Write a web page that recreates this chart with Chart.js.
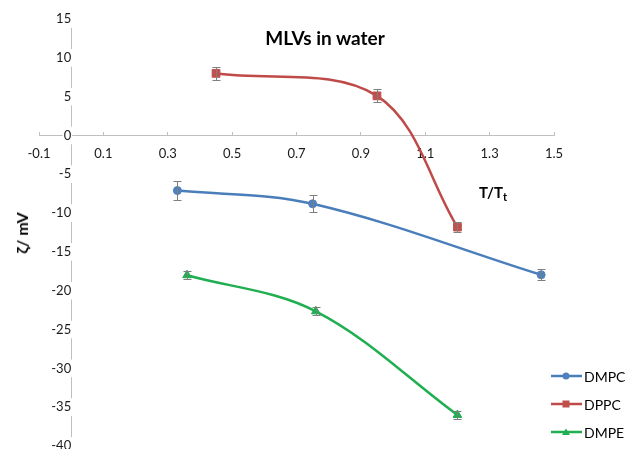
<!DOCTYPE html>
<html><head><meta charset="utf-8">
<script src="https://cdn.jsdelivr.net/npm/chart.js@4"></script>
<style>
html,body{margin:0;padding:0;background:#fff;}
#wrap{position:relative;width:626px;height:449px;font-family:Lato,'Open Sans',sans-serif;overflow:hidden;}
canvas{position:absolute;left:0;top:0;}
.t{position:absolute;white-space:nowrap;color:#000;line-height:1;}
#title{left:325px;top:37px;transform:translate(-50%,-50%);font-weight:bold;font-size:19px;}
#xt{left:479px;top:192px;transform:translateY(-50%);font-weight:bold;font-size:15px;}
#xt sub{font-size:11px;vertical-align:-3px;line-height:0;}
#yt{left:22px;top:233px;transform:translate(-50%,-50%) rotate(-90deg);font-weight:bold;font-size:16px;}
#legend{position:absolute;left:551px;top:362px;}
.row{display:flex;align-items:center;height:28px;font-size:14px;color:#000;}
.row svg{margin-right:2px;}
</style></head>
<body><div id="wrap"><canvas id="c" width="626" height="449"></canvas>
<div class="t" id="title">MLVs in water</div>
<div class="t" id="xt">T/T<sub>t</sub></div>
<div class="t" id="yt">ζ/ mV</div>
<div id="legend"></div></div>
<script>
const xTicks = [-0.1, 0.1, 0.3, 0.5, 0.7, 0.9, 1.1, 1.3, 1.5];
const yTicks = [-40, -35, -30, -25, -20, -15, -10, -5, 0, 5, 10, 15];
const seriesNames = ['DMPC', 'DPPC', 'DMPE'];
const dmpcX = [0.33, 0.75, 1.46];
const dmpcY = [-7.1, -8.8, -17.95];
const dmpcErr = [1.2, 1.1, 0.7];
const dppcX = [0.45, 0.95, 1.2];
const dppcY = [8.0, 5.1, -11.8];
const dppcErr = [0.8, 0.85, 0.65];
const dmpeX = [0.36, 0.76, 1.2];
const dmpeY = [-18.0, -22.65, -36.0];
const dmpeErr = [0.5, 0.5, 0.5];

const lineColors = ['#4a7ebb', '#be4b48', '#1fae50'];
const markColors = ['#4f81bd', '#c0504d', '#1fae50'];
const markStyles = ['circle', 'rect', 'triangle'];
const markRadius = [4, 5.5, 5];
const errs = [dmpcErr, dppcErr, dmpeErr];
const xs = [dmpcX, dppcX, dmpeX];
const ys = [dmpcY, dppcY, dmpeY];

const datasets = seriesNames.map((n, i) => ({
  label: n,
  data: xs[i].map((x, j) => ({x: x, y: ys[i][j]})),
  borderColor: lineColors[i],
  backgroundColor: markColors[i],
  pointBorderColor: markColors[i],
  pointBackgroundColor: markColors[i],
  pointStyle: markStyles[i],
  pointRadius: markRadius[i],
  pointBorderWidth: 1,
  borderWidth: 2.5,
  tension: 0.35,
  showLine: true,
  fill: false
}));

const errorBars = {
  id: 'errorBars',
  afterDatasetsDraw(chart) {
    const {ctx, scales: {x, y}} = chart;
    ctx.save();
    ctx.strokeStyle = '#7f7f7f';
    ctx.lineWidth = 1;
    chart.data.datasets.forEach((ds, i) => {
      ds.data.forEach((p, j) => {
        const e = errs[i][j];
        const px = Math.round(x.getPixelForValue(p.x)) + 0.5;
        const t = Math.round(y.getPixelForValue(p.y + e)) + 0.5;
        const b = Math.round(y.getPixelForValue(p.y - e)) + 0.5;
        ctx.beginPath();
        ctx.moveTo(px, t); ctx.lineTo(px, b);
        ctx.moveTo(px - 4, t); ctx.lineTo(px + 4, t);
        ctx.moveTo(px - 4, b); ctx.lineTo(px + 4, b);
        ctx.stroke();
      });
    });
    ctx.restore();
  }
};

const zeroPad = s => { s.paddingTop = 0; s.paddingBottom = 0; s.paddingLeft = 0; s.paddingRight = 0; };
const tickFont = {family: 'Lato', size: 13};
new Chart(document.getElementById('c'), {
  type: 'scatter',
  data: {datasets},
  options: {
    responsive: false,
    animation: false,
    devicePixelRatio: 1,
    layout: {autoPadding: false, padding: {left: 39, right: 72, top: 19, bottom: 3}},
    plugins: {legend: {display: false}, title: {display: false}, tooltip: {enabled: false}},
    scales: {
      x: {
        type: 'linear', min: -0.1, max: 1.5,
        position: {y: 0},
        afterBuildTicks: s => { s.ticks = xTicks.map(v => ({value: v})); },
        afterFit: zeroPad,
        grid: {drawOnChartArea: false, drawTicks: true, tickLength: -4, color: '#bfbfbf'},
        border: {color: '#bfbfbf', width: 1},
        ticks: {font: tickFont, color: '#1a1a1a', padding: 15, maxRotation: 0, autoSkip: false,
          callback: v => v.toFixed(1)}
      },
      y: {
        type: 'linear', min: -40, max: 15,
        position: {x: 0},
        afterBuildTicks: s => { s.ticks = yTicks.map(v => ({value: v})); },
        afterFit: zeroPad,
        grid: {drawOnChartArea: false, drawTicks: true, tickLength: 5, color: '#bfbfbf'},
        border: {color: '#bfbfbf', width: 1},
        ticks: {font: tickFont, color: '#1a1a1a', padding: 8, autoSkip: false,
          showLabelBackdrop: true, backdropColor: '#ffffff', backdropPadding: 1,
          callback: v => String(v)}
      }
    }
  },
  plugins: [errorBars]
});

// legend
const leg = document.getElementById('legend');
seriesNames.forEach((n, i) => {
  let mark = '';
  if (markStyles[i] === 'circle') mark = `<circle cx="15" cy="6" r="3.5" fill="${markColors[i]}"/>`;
  else if (markStyles[i] === 'rect') mark = `<rect x="11.5" y="2.5" width="7" height="7" fill="${markColors[i]}"/>`;
  else mark = `<polygon points="15,2.5 19,9 11,9" fill="${markColors[i]}"/>`;
  const row = document.createElement('div');
  row.className = 'row';
  row.innerHTML = `<svg width="31" height="12"><line x1="0" y1="6" x2="31" y2="6" stroke="${lineColors[i]}" stroke-width="2.5"/>${mark}</svg><span>${n}</span>`;
  leg.appendChild(row);
});
</script>
</body></html>
